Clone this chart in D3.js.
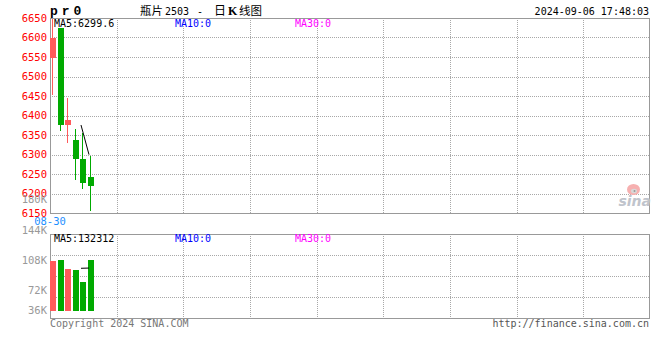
<!DOCTYPE html>
<html><head><meta charset="utf-8">
<script src="https://cdn.jsdelivr.net/npm/d3@7"></script>
<style>
html,body{margin:0;padding:0;background:#fff;}
svg{display:block;}
text{font-family:"DejaVu Sans Mono",monospace;font-size:10px;}
</style></head>
<body>
<svg id="chart" width="660" height="360"></svg>
<script>
// ---- data ----
const dates  = ["08-30","09-02","09-03","09-04","09-05","09-06"];
const opens  = [6548, 6624, 6376, 6337, 6288, 6242];
const highs  = [6648, 6624, 6444, 6365, 6355, 6297];
const lows   = [6452, 6359, 6330, 6235, 6211, 6156];
const closes = [6600, 6376, 6388, 6288, 6226, 6220];
const volumes = [154400, 157600, 130500, 126400, 89200, 157860];
const priceTicks = [6650, 6600, 6550, 6500, 6450, 6400, 6350, 6300, 6250, 6200, 6150];
const volTickValues = [180000, 144000, 108000, 72000, 36000];
const volTickLabels = ["180K", "144K", "108K", "72K", "36K"];
const titleCode = "pr0";
const titleParts = ["瓶片", "2503", "-", "日", "K", "线图"];
const timestamp = "2024-09-06 17:48:03";

const svg = d3.select("#chart");
const L = 50, R = 650;
const mainTop = 18, mainBot = 213;
const volTop = 234, volBot = 318, volBase = 310.7;
const RED = "#ff5a5a", GREEN = "#00aa00", GRID = "#a8a8a8", FRAME = "#999999";

const x = d3.scaleLinear().domain([0, 80]).range([L, R]);
const barW = 6;
const y = d3.scaleLinear().domain([6150, 6650]).range([mainBot, mainTop]);
const yv = d3.scaleLinear().domain([0, 238000]).range([volBase, volTop]);
const yvLabel = d3.scaleLinear().domain([180000, 72000]).range([199.3, 290.7]);
const xGrid = d3.scaleLinear().domain([0, 9]).range([L, R]);
const volGrid = d3.scaleLinear().domain([0, 4]).range([volBot, volTop]);

function ma(arr, n) {
  return arr.map((d, i) => i >= n - 1 ? d3.mean(arr.slice(i - n + 1, i + 1)) : null);
}
const ma5 = ma(closes, 5);
const vma5 = ma(volumes, 5);

// ---- grid ----
const g = svg.append("g").attr("shape-rendering", "crispEdges");
g.selectAll(".hg").data(priceTicks.filter(t => t > 6150 && t < 6650)).join("line")
  .attr("x1", L).attr("x2", R).attr("y1", d => Math.round(y(d)) + 0.5).attr("y2", d => Math.round(y(d)) + 0.5)
  .attr("stroke", GRID).attr("stroke-dasharray", "1,1");
const vx = d3.range(1, 9).map(i => Math.round(xGrid(i)) + 0.5);
g.selectAll(".vg").data(vx).join("line")
  .attr("x1", d => d).attr("x2", d => d).attr("y1", mainTop).attr("y2", mainBot)
  .attr("stroke", GRID).attr("stroke-dasharray", "1,1");
g.selectAll(".vg2").data(vx).join("line")
  .attr("x1", d => d).attr("x2", d => d).attr("y1", volTop).attr("y2", volBot)
  .attr("stroke", GRID).attr("stroke-dasharray", "1,1");
g.selectAll(".vhg").data([1, 2, 3]).join("line")
  .attr("x1", L).attr("x2", R).attr("y1", d => Math.round(volGrid(d)) + 0.5).attr("y2", d => Math.round(volGrid(d)) + 0.5)
  .attr("stroke", GRID).attr("stroke-dasharray", "1,1");

// frames
g.append("rect").attr("x", L + 0.5).attr("y", mainTop + 0.5).attr("width", R - L - 1).attr("height", mainBot - mainTop)
  .attr("fill", "none").attr("stroke", FRAME);
g.append("rect").attr("x", L + 0.5).attr("y", volTop + 0.5).attr("width", R - L - 1).attr("height", volBot - volTop)
  .attr("fill", "none").attr("stroke", FRAME);

// sina logo
const logo = svg.append("g");
logo.append("ellipse").attr("cx", 633.5).attr("cy", 189.5).attr("rx", 6.5).attr("ry", 5.5).attr("fill", "#f6b0b0");
logo.append("ellipse").attr("cx", 634).attr("cy", 191).attr("rx", 3).attr("ry", 2.3).attr("fill", "#d8d8d8");
logo.append("circle").attr("cx", 634.5).attr("cy", 191).attr("r", 1).attr("fill", "#999");
logo.append("text").attr("x", 651).attr("y", 206).attr("text-anchor", "end")
  .style("font-family", "DejaVu Sans").style("font-size", "14px").style("font-style", "italic").style("font-weight", "bold")
  .attr("fill", "#c0c4cc").text("sina");

// ---- candles ----
const idx = d3.range(dates.length);
const cg = svg.append("g").attr("shape-rendering", "crispEdges");
cg.selectAll(".wick").data(idx).join("line")
  .attr("x1", i => Math.round(x(i)) + 2.5).attr("x2", i => Math.round(x(i)) + 2.5)
  .attr("y1", i => y(highs[i])).attr("y2", i => y(lows[i]))
  .attr("stroke", i => closes[i] >= opens[i] ? RED : GREEN);
cg.selectAll(".body").data(idx).join("rect")
  .attr("x", i => Math.round(x(i))).attr("width", barW)
  .attr("y", i => y(Math.max(opens[i], closes[i])))
  .attr("height", i => Math.max(1, Math.abs(y(opens[i]) - y(closes[i]))))
  .attr("fill", i => closes[i] >= opens[i] ? RED : GREEN);

// MA5 line
const maLine = d3.line().defined(d => d.v != null).x(d => Math.round(x(d.i)) + 1).y(d => d.y);
svg.append("path").datum(idx.map(i => ({i, v: ma5[i], y: ma5[i] == null ? 0 : y(ma5[i])})))
  .attr("d", maLine).attr("fill", "none").attr("stroke", "#000").attr("stroke-width", 1);

// ---- volume ----
cg.selectAll(".vbar").data(idx).join("rect")
  .attr("x", i => Math.round(x(i))).attr("width", barW)
  .attr("y", i => yv(volumes[i])).attr("height", i => yv(0) - yv(volumes[i]))
  .attr("fill", i => closes[i] >= opens[i] ? RED : GREEN);
svg.append("path").datum(idx.map(i => ({i, v: vma5[i], y: vma5[i] == null ? 0 : yv(vma5[i])})))
  .attr("d", maLine).attr("fill", "none").attr("stroke", "#000").attr("stroke-width", 1);

// ---- axis labels ----
svg.append("g").selectAll("text").data(priceTicks).join("text")
  .attr("x", 47).attr("y", d => y(d)).attr("dy", "0.36em").attr("text-anchor", "end")
  .attr("fill", "#ff0000").style("font-size", "10.5px").text(d => d);
svg.append("g").selectAll("text").data(volTickValues).join("text")
  .attr("x", 47).attr("y", d => Math.min(yvLabel(d), volBase)).attr("dy", "0.36em").attr("text-anchor", "end")
  .attr("fill", "#999999").style("font-size", "10.5px").text((d, i) => volTickLabels[i]);
svg.append("text").attr("x", x(0)).attr("y", 225).attr("text-anchor", "middle")
  .attr("fill", "#1e8fff").style("font-size", "10.5px").text(dates[0]);

// ---- MA legends ----
function legends(yy, val) {
  svg.append("text").attr("x", 54).attr("y", yy).attr("fill", "#000").text("MA5:" + val);
  svg.append("text").attr("x", 175).attr("y", yy).attr("fill", "#0000ff").text("MA10:0");
  svg.append("text").attr("x", 295).attr("y", yy).attr("fill", "#ff00ff").text("MA30:0");
}
legends(27, ma5[ma5.length - 1].toFixed(1));
legends(242, Math.round(vma5[vma5.length - 1]));

// ---- title ----
svg.append("text").attr("x", 50).attr("y", 15)
  .style("font-family", "'Liberation Mono',monospace").style("font-size", "13px").style("font-weight", "bold")
  .attr("letter-spacing", "4px").attr("fill", "#000").text(titleCode);
const tt = svg.append("text").attr("y", 15).attr("fill", "#000");
const cjk = "'Noto Sans CJK SC',sans-serif";
tt.append("tspan").attr("x", 140).style("font-family", cjk).style("font-size", "11.5px").text(titleParts[0]);
tt.append("tspan").attr("x", 165).text(titleParts[1]);
tt.append("tspan").attr("x", 197).text(titleParts[2]);
tt.append("tspan").attr("x", 214).style("font-family", cjk).style("font-size", "12px").text(titleParts[3]);
tt.append("tspan").attr("x", 228).style("font-family", "'Liberation Serif',serif").style("font-size", "12px").style("font-weight", "bold").text(titleParts[4]);
tt.append("tspan").attr("x", 239).style("font-family", cjk).style("font-size", "11.5px").text(titleParts[5]);
svg.append("text").attr("x", 649).attr("y", 15).attr("text-anchor", "end").attr("fill", "#000").text(timestamp);

// ---- footer ----
svg.append("text").attr("x", 50).attr("y", 327).attr("fill", "#777").text("Copyright 2024 SINA.COM");
svg.append("text").attr("x", 649).attr("y", 327).attr("text-anchor", "end").attr("fill", "#555").text("http://finance.sina.com.cn");
</script>
</body></html>
